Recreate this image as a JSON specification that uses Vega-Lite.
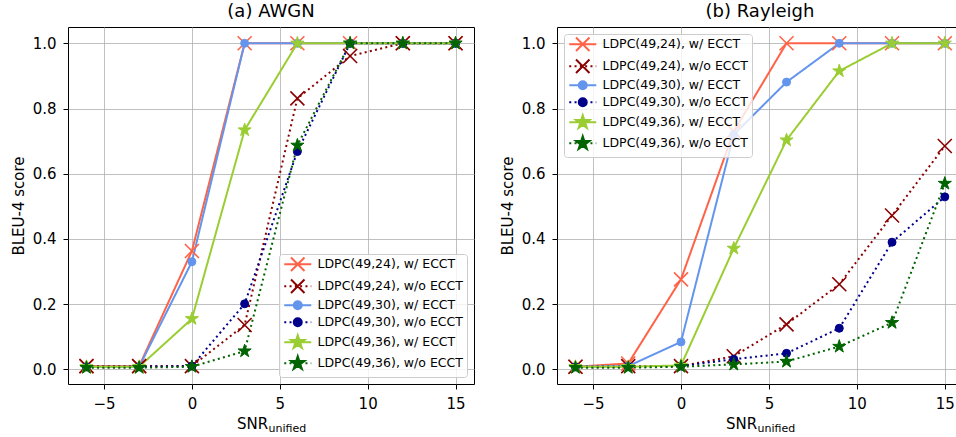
{
  "$schema": "https://vega.github.io/schema/vega-lite/v6.json",
  "padding": {"left": 10, "top": 2, "right": 0, "bottom": 0},
  "spacing": 24,
  "background": "white",
  "datasets": {
    "awgn": [
      {"snr": -6, "series": "LDPC(49,24), w/ ECCT", "ecct": "w/", "bleu": 0.01},
      {"snr": -3, "series": "LDPC(49,24), w/ ECCT", "ecct": "w/", "bleu": 0.01},
      {"snr": 0, "series": "LDPC(49,24), w/ ECCT", "ecct": "w/", "bleu": 0.363},
      {"snr": 3, "series": "LDPC(49,24), w/ ECCT", "ecct": "w/", "bleu": 1.0},
      {"snr": 6, "series": "LDPC(49,24), w/ ECCT", "ecct": "w/", "bleu": 1.0},
      {"snr": 9, "series": "LDPC(49,24), w/ ECCT", "ecct": "w/", "bleu": 1.0},
      {"snr": 12, "series": "LDPC(49,24), w/ ECCT", "ecct": "w/", "bleu": 1.0},
      {"snr": 15, "series": "LDPC(49,24), w/ ECCT", "ecct": "w/", "bleu": 1.0},
      {"snr": -6, "series": "LDPC(49,24), w/o ECCT", "ecct": "w/o", "bleu": 0.01},
      {"snr": -3, "series": "LDPC(49,24), w/o ECCT", "ecct": "w/o", "bleu": 0.01},
      {"snr": 0, "series": "LDPC(49,24), w/o ECCT", "ecct": "w/o", "bleu": 0.01},
      {"snr": 3, "series": "LDPC(49,24), w/o ECCT", "ecct": "w/o", "bleu": 0.136},
      {"snr": 6, "series": "LDPC(49,24), w/o ECCT", "ecct": "w/o", "bleu": 0.831},
      {"snr": 9, "series": "LDPC(49,24), w/o ECCT", "ecct": "w/o", "bleu": 0.961},
      {"snr": 12, "series": "LDPC(49,24), w/o ECCT", "ecct": "w/o", "bleu": 1.0},
      {"snr": 15, "series": "LDPC(49,24), w/o ECCT", "ecct": "w/o", "bleu": 1.0},
      {"snr": -6, "series": "LDPC(49,30), w/ ECCT", "ecct": "w/", "bleu": 0.008},
      {"snr": -3, "series": "LDPC(49,30), w/ ECCT", "ecct": "w/", "bleu": 0.008},
      {"snr": 0, "series": "LDPC(49,30), w/ ECCT", "ecct": "w/", "bleu": 0.33},
      {"snr": 3, "series": "LDPC(49,30), w/ ECCT", "ecct": "w/", "bleu": 1.0},
      {"snr": 6, "series": "LDPC(49,30), w/ ECCT", "ecct": "w/", "bleu": 1.0},
      {"snr": 9, "series": "LDPC(49,30), w/ ECCT", "ecct": "w/", "bleu": 1.0},
      {"snr": 12, "series": "LDPC(49,30), w/ ECCT", "ecct": "w/", "bleu": 1.0},
      {"snr": 15, "series": "LDPC(49,30), w/ ECCT", "ecct": "w/", "bleu": 1.0},
      {"snr": -6, "series": "LDPC(49,30), w/o ECCT", "ecct": "w/o", "bleu": 0.008},
      {"snr": -3, "series": "LDPC(49,30), w/o ECCT", "ecct": "w/o", "bleu": 0.008},
      {"snr": 0, "series": "LDPC(49,30), w/o ECCT", "ecct": "w/o", "bleu": 0.01},
      {"snr": 3, "series": "LDPC(49,30), w/o ECCT", "ecct": "w/o", "bleu": 0.201},
      {"snr": 6, "series": "LDPC(49,30), w/o ECCT", "ecct": "w/o", "bleu": 0.668},
      {"snr": 9, "series": "LDPC(49,30), w/o ECCT", "ecct": "w/o", "bleu": 1.0},
      {"snr": 12, "series": "LDPC(49,30), w/o ECCT", "ecct": "w/o", "bleu": 1.0},
      {"snr": 15, "series": "LDPC(49,30), w/o ECCT", "ecct": "w/o", "bleu": 1.0},
      {"snr": -6, "series": "LDPC(49,36), w/ ECCT", "ecct": "w/", "bleu": 0.008},
      {"snr": -3, "series": "LDPC(49,36), w/ ECCT", "ecct": "w/", "bleu": 0.008},
      {"snr": 0, "series": "LDPC(49,36), w/ ECCT", "ecct": "w/", "bleu": 0.155},
      {"snr": 3, "series": "LDPC(49,36), w/ ECCT", "ecct": "w/", "bleu": 0.734},
      {"snr": 6, "series": "LDPC(49,36), w/ ECCT", "ecct": "w/", "bleu": 1.0},
      {"snr": 9, "series": "LDPC(49,36), w/ ECCT", "ecct": "w/", "bleu": 1.0},
      {"snr": 12, "series": "LDPC(49,36), w/ ECCT", "ecct": "w/", "bleu": 1.0},
      {"snr": 15, "series": "LDPC(49,36), w/ ECCT", "ecct": "w/", "bleu": 1.0},
      {"snr": -6, "series": "LDPC(49,36), w/o ECCT", "ecct": "w/o", "bleu": 0.005},
      {"snr": -3, "series": "LDPC(49,36), w/o ECCT", "ecct": "w/o", "bleu": 0.005},
      {"snr": 0, "series": "LDPC(49,36), w/o ECCT", "ecct": "w/o", "bleu": 0.008},
      {"snr": 3, "series": "LDPC(49,36), w/o ECCT", "ecct": "w/o", "bleu": 0.056},
      {"snr": 6, "series": "LDPC(49,36), w/o ECCT", "ecct": "w/o", "bleu": 0.687},
      {"snr": 9, "series": "LDPC(49,36), w/o ECCT", "ecct": "w/o", "bleu": 1.0},
      {"snr": 12, "series": "LDPC(49,36), w/o ECCT", "ecct": "w/o", "bleu": 1.0},
      {"snr": 15, "series": "LDPC(49,36), w/o ECCT", "ecct": "w/o", "bleu": 1.0}
    ],
    "rayleigh": [
      {"snr": -6, "series": "LDPC(49,24), w/ ECCT", "ecct": "w/", "bleu": 0.008},
      {"snr": -3, "series": "LDPC(49,24), w/ ECCT", "ecct": "w/", "bleu": 0.018},
      {"snr": 0, "series": "LDPC(49,24), w/ ECCT", "ecct": "w/", "bleu": 0.276},
      {"snr": 3, "series": "LDPC(49,24), w/ ECCT", "ecct": "w/", "bleu": 0.73},
      {"snr": 6, "series": "LDPC(49,24), w/ ECCT", "ecct": "w/", "bleu": 1.0},
      {"snr": 9, "series": "LDPC(49,24), w/ ECCT", "ecct": "w/", "bleu": 1.0},
      {"snr": 12, "series": "LDPC(49,24), w/ ECCT", "ecct": "w/", "bleu": 1.0},
      {"snr": 15, "series": "LDPC(49,24), w/ ECCT", "ecct": "w/", "bleu": 1.0},
      {"snr": -6, "series": "LDPC(49,24), w/o ECCT", "ecct": "w/o", "bleu": 0.008},
      {"snr": -3, "series": "LDPC(49,24), w/o ECCT", "ecct": "w/o", "bleu": 0.01},
      {"snr": 0, "series": "LDPC(49,24), w/o ECCT", "ecct": "w/o", "bleu": 0.01},
      {"snr": 3, "series": "LDPC(49,24), w/o ECCT", "ecct": "w/o", "bleu": 0.04},
      {"snr": 6, "series": "LDPC(49,24), w/o ECCT", "ecct": "w/o", "bleu": 0.138},
      {"snr": 9, "series": "LDPC(49,24), w/o ECCT", "ecct": "w/o", "bleu": 0.261},
      {"snr": 12, "series": "LDPC(49,24), w/o ECCT", "ecct": "w/o", "bleu": 0.472},
      {"snr": 15, "series": "LDPC(49,24), w/o ECCT", "ecct": "w/o", "bleu": 0.685},
      {"snr": -6, "series": "LDPC(49,30), w/ ECCT", "ecct": "w/", "bleu": 0.008},
      {"snr": -3, "series": "LDPC(49,30), w/ ECCT", "ecct": "w/", "bleu": 0.01},
      {"snr": 0, "series": "LDPC(49,30), w/ ECCT", "ecct": "w/", "bleu": 0.084},
      {"snr": 3, "series": "LDPC(49,30), w/ ECCT", "ecct": "w/", "bleu": 0.72},
      {"snr": 6, "series": "LDPC(49,30), w/ ECCT", "ecct": "w/", "bleu": 0.881},
      {"snr": 9, "series": "LDPC(49,30), w/ ECCT", "ecct": "w/", "bleu": 1.0},
      {"snr": 12, "series": "LDPC(49,30), w/ ECCT", "ecct": "w/", "bleu": 1.0},
      {"snr": 15, "series": "LDPC(49,30), w/ ECCT", "ecct": "w/", "bleu": 1.0},
      {"snr": -6, "series": "LDPC(49,30), w/o ECCT", "ecct": "w/o", "bleu": 0.008},
      {"snr": -3, "series": "LDPC(49,30), w/o ECCT", "ecct": "w/o", "bleu": 0.008},
      {"snr": 0, "series": "LDPC(49,30), w/o ECCT", "ecct": "w/o", "bleu": 0.01},
      {"snr": 3, "series": "LDPC(49,30), w/o ECCT", "ecct": "w/o", "bleu": 0.031},
      {"snr": 6, "series": "LDPC(49,30), w/o ECCT", "ecct": "w/o", "bleu": 0.049},
      {"snr": 9, "series": "LDPC(49,30), w/o ECCT", "ecct": "w/o", "bleu": 0.126},
      {"snr": 12, "series": "LDPC(49,30), w/o ECCT", "ecct": "w/o", "bleu": 0.39},
      {"snr": 15, "series": "LDPC(49,30), w/o ECCT", "ecct": "w/o", "bleu": 0.529},
      {"snr": -6, "series": "LDPC(49,36), w/ ECCT", "ecct": "w/", "bleu": 0.008},
      {"snr": -3, "series": "LDPC(49,36), w/ ECCT", "ecct": "w/", "bleu": 0.008},
      {"snr": 0, "series": "LDPC(49,36), w/ ECCT", "ecct": "w/", "bleu": 0.012},
      {"snr": 3, "series": "LDPC(49,36), w/ ECCT", "ecct": "w/", "bleu": 0.371},
      {"snr": 6, "series": "LDPC(49,36), w/ ECCT", "ecct": "w/", "bleu": 0.703},
      {"snr": 9, "series": "LDPC(49,36), w/ ECCT", "ecct": "w/", "bleu": 0.915},
      {"snr": 12, "series": "LDPC(49,36), w/ ECCT", "ecct": "w/", "bleu": 1.0},
      {"snr": 15, "series": "LDPC(49,36), w/ ECCT", "ecct": "w/", "bleu": 1.0},
      {"snr": -6, "series": "LDPC(49,36), w/o ECCT", "ecct": "w/o", "bleu": 0.005},
      {"snr": -3, "series": "LDPC(49,36), w/o ECCT", "ecct": "w/o", "bleu": 0.005},
      {"snr": 0, "series": "LDPC(49,36), w/o ECCT", "ecct": "w/o", "bleu": 0.008},
      {"snr": 3, "series": "LDPC(49,36), w/o ECCT", "ecct": "w/o", "bleu": 0.015},
      {"snr": 6, "series": "LDPC(49,36), w/o ECCT", "ecct": "w/o", "bleu": 0.024},
      {"snr": 9, "series": "LDPC(49,36), w/o ECCT", "ecct": "w/o", "bleu": 0.07},
      {"snr": 12, "series": "LDPC(49,36), w/o ECCT", "ecct": "w/o", "bleu": 0.143},
      {"snr": 15, "series": "LDPC(49,36), w/o ECCT", "ecct": "w/o", "bleu": 0.57}
    ]
  },
  "hconcat": [
    {
      "width": 406,
      "height": 357,
      "title": {"text": "(a) AWGN", "fontSize": 18, "fontWeight": "normal", "offset": 6, "color": "black", "font": "DejaVu Sans"},
      "data": {"name": "awgn"},
      "encoding": {
        "x": {"field": "snr", "type": "quantitative", "scale": {"domain": [-7.05, 16.05], "nice": false, "zero": false}},
        "y": {"field": "bleu", "type": "quantitative", "scale": {"domain": [-0.045, 1.05], "nice": false, "zero": false},
              "axis": {"title": "BLEU-4 score", "values": [0, 0.2, 0.4, 0.6, 0.8, 1.0], "format": ".1f", "labelPadding": 7, "titlePadding": 6}}
      },
      "layer": [
        {
          "mark": {"type": "line", "strokeWidth": 2},
          "encoding": {
            "x": {"field": "snr", "type": "quantitative",
                  "axis": {"values": [-5, 0, 5, 10, 15], "title": "SNR", "titleX": 184, "titleY": 44, "titleBaseline": "alphabetic", "titleAlign": "center", "labelPadding": 7}},
            "color": {"field": "series", "type": "nominal",
              "scale": {"domain": ["LDPC(49,24), w/ ECCT", "LDPC(49,24), w/o ECCT", "LDPC(49,30), w/ ECCT", "LDPC(49,30), w/o ECCT", "LDPC(49,36), w/ ECCT", "LDPC(49,36), w/o ECCT"],
                        "range": ["#FF6347", "#8B0000", "#6495ED", "#00008B", "#9ACD32", "#006400"]},
              "legend": {"title": null, "orient": "bottom-right",
                "encode": {"symbols": {"update": {
                  "shape": {"signal": "['M-1,0L4.4,0M0.35,-1.35L3.05,1.35M0.35,1.35L3.05,-1.35','M-1,0L-0.6,0M0.06,0L0.46,0M1.12,0L1.52,0M2.18,0L2.58,0M3.24,0L3.64,0M4.3,0L4.4,0M0.35,-1.35L3.05,1.35M0.35,1.35L3.05,-1.35','M-1,0L4.4,0M2.5,0A0.8,0.8 0 1,1 0.9,0A0.8,0.8 0 1,1 2.5,0Z','M-1,0L-0.6,0M0.06,0L0.46,0M1.12,0L1.52,0M2.18,0L2.58,0M3.24,0L3.64,0M4.3,0L4.4,0M2.5,0A0.8,0.8 0 1,1 0.9,0A0.8,0.8 0 1,1 2.5,0Z','M-1,0L4.4,0M1.7,-1.4L2.0143,-0.4326L3.0314,-0.4326L2.2082,0.1652L2.5232,1.1326L1.7,0.5348L0.8768,1.1326L1.1918,0.1652L0.3686,-0.4326L1.3857,-0.4326Z','M-1,0L-0.6,0M0.06,0L0.46,0M1.12,0L1.52,0M2.18,0L2.58,0M3.24,0L3.64,0M4.3,0L4.4,0M1.7,-1.4L2.0143,-0.4326L3.0314,-0.4326L2.2082,0.1652L2.5232,1.1326L1.7,0.5348L0.8768,1.1326L1.1918,0.1652L0.3686,-0.4326L1.3857,-0.4326Z'][indexof(['LDPC(49,24), w/ ECCT','LDPC(49,24), w/o ECCT','LDPC(49,30), w/ ECCT','LDPC(49,30), w/o ECCT','LDPC(49,36), w/ ECCT','LDPC(49,36), w/o ECCT'], datum.value)]"},
                  "fill": {"signal": "['#FF6347','#8B0000','#6495ED','#00008B','#9ACD32','#006400'][indexof(['LDPC(49,24), w/ ECCT','LDPC(49,24), w/o ECCT','LDPC(49,30), w/ ECCT','LDPC(49,30), w/o ECCT','LDPC(49,36), w/ ECCT','LDPC(49,36), w/o ECCT'], datum.value)]"},
                  "stroke": {"signal": "['#FF6347','#8B0000','#6495ED','#00008B','#9ACD32','#006400'][indexof(['LDPC(49,24), w/ ECCT','LDPC(49,24), w/o ECCT','LDPC(49,30), w/ ECCT','LDPC(49,30), w/o ECCT','LDPC(49,36), w/ ECCT','LDPC(49,36), w/o ECCT'], datum.value)]"},
                  "strokeWidth": {"value": 2},
                  "opacity": {"value": 1}
                }}}
              }
            },
            "strokeDash": {"field": "ecct", "type": "nominal", "legend": null,
              "scale": {"domain": ["w/", "w/o"], "range": [[1, 0], [2, 3.3]]}}
          }
        },
        {
          "transform": [{"filter": {"field": "series", "oneOf": ["LDPC(49,24), w/ ECCT", "LDPC(49,24), w/o ECCT"]}}],
          "mark": {"type": "point", "filled": true, "size": 196, "strokeWidth": 1.6, "opacity": 1, "shape": "M-1,-1L1,1M-1,1L1,-1"},
          "encoding": {
            "x": {"field": "snr", "type": "quantitative",
                  "axis": {"orient": "bottom", "title": "unified", "labels": false, "ticks": false, "domain": false, "grid": false, "titleFontSize": 11, "titleX": 200, "titleY": 47, "titleAlign": "left", "titleBaseline": "alphabetic"}},
            "fill": {"field": "series", "type": "nominal", "legend": null,
              "scale": {"domain": ["LDPC(49,24), w/ ECCT", "LDPC(49,24), w/o ECCT", "LDPC(49,30), w/ ECCT", "LDPC(49,30), w/o ECCT", "LDPC(49,36), w/ ECCT", "LDPC(49,36), w/o ECCT"],
                        "range": ["#FF6347", "#8B0000", "#6495ED", "#00008B", "#9ACD32", "#006400"]}},
            "stroke": {"field": "series", "type": "nominal", "legend": null,
              "scale": {"domain": ["LDPC(49,24), w/ ECCT", "LDPC(49,24), w/o ECCT", "LDPC(49,30), w/ ECCT", "LDPC(49,30), w/o ECCT", "LDPC(49,36), w/ ECCT", "LDPC(49,36), w/o ECCT"],
                        "range": ["#FF6347", "#8B0000", "#6495ED", "#00008B", "#9ACD32", "#006400"]}}
          }
        },
        {
          "transform": [{"filter": {"field": "series", "oneOf": ["LDPC(49,30), w/ ECCT", "LDPC(49,30), w/o ECCT"]}}],
          "mark": {"type": "point", "filled": true, "size": 64, "strokeWidth": 1, "opacity": 1, "shape": "circle"},
          "encoding": {
            "x": {"field": "snr", "type": "quantitative", "axis": null},
            "fill": {"field": "series", "type": "nominal", "legend": null},
            "stroke": {"field": "series", "type": "nominal", "legend": null}
          }
        },
        {
          "transform": [{"filter": {"field": "series", "oneOf": ["LDPC(49,36), w/ ECCT", "LDPC(49,36), w/o ECCT"]}}],
          "mark": {"type": "point", "filled": true, "size": 190, "strokeWidth": 1, "opacity": 1, "shape": "M0,-1L0.2245,-0.309L0.951,-0.309L0.363,0.118L0.588,0.809L0,0.382L-0.588,0.809L-0.363,0.118L-0.951,-0.309L-0.2245,-0.309Z"},
          "encoding": {
            "x": {"field": "snr", "type": "quantitative", "axis": null},
            "fill": {"field": "series", "type": "nominal", "legend": null},
            "stroke": {"field": "series", "type": "nominal", "legend": null}
          }
        }
      ],
      "resolve": {"axis": {"x": "independent"}}
    },
    {
      "width": 401,
      "height": 357,
      "title": {"text": "(b) Rayleigh", "fontSize": 18, "fontWeight": "normal", "offset": 6, "color": "black", "font": "DejaVu Sans", "dx": 2.5},
      "data": {"name": "rayleigh"},
      "encoding": {
        "x": {"field": "snr", "type": "quantitative", "scale": {"domain": [-7.05, 15.75], "nice": false, "zero": false}},
        "y": {"field": "bleu", "type": "quantitative", "scale": {"domain": [-0.045, 1.05], "nice": false, "zero": false},
              "axis": {"title": "BLEU-4 score", "values": [0, 0.2, 0.4, 0.6, 0.8, 1.0], "format": ".1f", "labelPadding": 7, "titlePadding": 6}}
      },
      "layer": [
        {
          "mark": {"type": "line", "strokeWidth": 2},
          "encoding": {
            "x": {"field": "snr", "type": "quantitative",
                  "axis": {"values": [-5, 0, 5, 10, 15], "title": "SNR", "titleX": 184, "titleY": 44, "titleBaseline": "alphabetic", "titleAlign": "center", "labelPadding": 7}},
            "color": {"field": "series", "type": "nominal",
              "scale": {"domain": ["LDPC(49,24), w/ ECCT", "LDPC(49,24), w/o ECCT", "LDPC(49,30), w/ ECCT", "LDPC(49,30), w/o ECCT", "LDPC(49,36), w/ ECCT", "LDPC(49,36), w/o ECCT"],
                        "range": ["#FF6347", "#8B0000", "#6495ED", "#00008B", "#9ACD32", "#006400"]},
              "legend": {"title": null, "orient": "top-left",
                "encode": {"symbols": {"update": {
                  "shape": {"signal": "['M-1,0L4.4,0M0.35,-1.35L3.05,1.35M0.35,1.35L3.05,-1.35','M-1,0L-0.6,0M0.06,0L0.46,0M1.12,0L1.52,0M2.18,0L2.58,0M3.24,0L3.64,0M4.3,0L4.4,0M0.35,-1.35L3.05,1.35M0.35,1.35L3.05,-1.35','M-1,0L4.4,0M2.5,0A0.8,0.8 0 1,1 0.9,0A0.8,0.8 0 1,1 2.5,0Z','M-1,0L-0.6,0M0.06,0L0.46,0M1.12,0L1.52,0M2.18,0L2.58,0M3.24,0L3.64,0M4.3,0L4.4,0M2.5,0A0.8,0.8 0 1,1 0.9,0A0.8,0.8 0 1,1 2.5,0Z','M-1,0L4.4,0M1.7,-1.4L2.0143,-0.4326L3.0314,-0.4326L2.2082,0.1652L2.5232,1.1326L1.7,0.5348L0.8768,1.1326L1.1918,0.1652L0.3686,-0.4326L1.3857,-0.4326Z','M-1,0L-0.6,0M0.06,0L0.46,0M1.12,0L1.52,0M2.18,0L2.58,0M3.24,0L3.64,0M4.3,0L4.4,0M1.7,-1.4L2.0143,-0.4326L3.0314,-0.4326L2.2082,0.1652L2.5232,1.1326L1.7,0.5348L0.8768,1.1326L1.1918,0.1652L0.3686,-0.4326L1.3857,-0.4326Z'][indexof(['LDPC(49,24), w/ ECCT','LDPC(49,24), w/o ECCT','LDPC(49,30), w/ ECCT','LDPC(49,30), w/o ECCT','LDPC(49,36), w/ ECCT','LDPC(49,36), w/o ECCT'], datum.value)]"},
                  "fill": {"signal": "['#FF6347','#8B0000','#6495ED','#00008B','#9ACD32','#006400'][indexof(['LDPC(49,24), w/ ECCT','LDPC(49,24), w/o ECCT','LDPC(49,30), w/ ECCT','LDPC(49,30), w/o ECCT','LDPC(49,36), w/ ECCT','LDPC(49,36), w/o ECCT'], datum.value)]"},
                  "stroke": {"signal": "['#FF6347','#8B0000','#6495ED','#00008B','#9ACD32','#006400'][indexof(['LDPC(49,24), w/ ECCT','LDPC(49,24), w/o ECCT','LDPC(49,30), w/ ECCT','LDPC(49,30), w/o ECCT','LDPC(49,36), w/ ECCT','LDPC(49,36), w/o ECCT'], datum.value)]"},
                  "strokeWidth": {"value": 2},
                  "opacity": {"value": 1}
                }}}
              }
            },
            "strokeDash": {"field": "ecct", "type": "nominal", "legend": null,
              "scale": {"domain": ["w/", "w/o"], "range": [[1, 0], [2, 3.3]]}}
          }
        },
        {
          "transform": [{"filter": {"field": "series", "oneOf": ["LDPC(49,24), w/ ECCT", "LDPC(49,24), w/o ECCT"]}}],
          "mark": {"type": "point", "filled": true, "size": 196, "strokeWidth": 1.6, "opacity": 1, "shape": "M-1,-1L1,1M-1,1L1,-1"},
          "encoding": {
            "x": {"field": "snr", "type": "quantitative",
                  "axis": {"orient": "bottom", "title": "unified", "labels": false, "ticks": false, "domain": false, "grid": false, "titleFontSize": 11, "titleX": 200, "titleY": 47, "titleAlign": "left", "titleBaseline": "alphabetic"}},
            "fill": {"field": "series", "type": "nominal", "legend": null,
              "scale": {"domain": ["LDPC(49,24), w/ ECCT", "LDPC(49,24), w/o ECCT", "LDPC(49,30), w/ ECCT", "LDPC(49,30), w/o ECCT", "LDPC(49,36), w/ ECCT", "LDPC(49,36), w/o ECCT"],
                        "range": ["#FF6347", "#8B0000", "#6495ED", "#00008B", "#9ACD32", "#006400"]}},
            "stroke": {"field": "series", "type": "nominal", "legend": null,
              "scale": {"domain": ["LDPC(49,24), w/ ECCT", "LDPC(49,24), w/o ECCT", "LDPC(49,30), w/ ECCT", "LDPC(49,30), w/o ECCT", "LDPC(49,36), w/ ECCT", "LDPC(49,36), w/o ECCT"],
                        "range": ["#FF6347", "#8B0000", "#6495ED", "#00008B", "#9ACD32", "#006400"]}}
          }
        },
        {
          "transform": [{"filter": {"field": "series", "oneOf": ["LDPC(49,30), w/ ECCT", "LDPC(49,30), w/o ECCT"]}}],
          "mark": {"type": "point", "filled": true, "size": 64, "strokeWidth": 1, "opacity": 1, "shape": "circle"},
          "encoding": {
            "x": {"field": "snr", "type": "quantitative", "axis": null},
            "fill": {"field": "series", "type": "nominal", "legend": null},
            "stroke": {"field": "series", "type": "nominal", "legend": null}
          }
        },
        {
          "transform": [{"filter": {"field": "series", "oneOf": ["LDPC(49,36), w/ ECCT", "LDPC(49,36), w/o ECCT"]}}],
          "mark": {"type": "point", "filled": true, "size": 190, "strokeWidth": 1, "opacity": 1, "shape": "M0,-1L0.2245,-0.309L0.951,-0.309L0.363,0.118L0.588,0.809L0,0.382L-0.588,0.809L-0.363,0.118L-0.951,-0.309L-0.2245,-0.309Z"},
          "encoding": {
            "x": {"field": "snr", "type": "quantitative", "axis": null},
            "fill": {"field": "series", "type": "nominal", "legend": null},
            "stroke": {"field": "series", "type": "nominal", "legend": null}
          }
        }
      ],
      "resolve": {"axis": {"x": "independent"}}
    }
  ],
  "resolve": {
    "scale": {"color": "independent", "fill": "independent", "stroke": "independent", "strokeDash": "independent"},
    "legend": {"color": "independent"}
  },
  "config": {
    "font": "DejaVu Sans",
    "view": {"stroke": "black", "strokeWidth": 1},
    "axis": {
      "domain": false,
      "labelColor": "black", "titleColor": "black", "tickColor": "black",
      "labelFont": "DejaVu Sans", "titleFont": "DejaVu Sans",
      "labelFontSize": 15, "titleFontSize": 15, "titleFontWeight": "normal",
      "gridColor": "#b0b0b0", "gridWidth": 0.8, "gridOpacity": 1,
      "tickSize": 5, "tickWidth": 1
    },
    "legend": {
      "labelFont": "DejaVu Sans", "labelFontSize": 12.5, "labelColor": "black",
      "padding": 4, "fillColor": "rgba(255,255,255,0.8)", "strokeColor": "#cccccc", "cornerRadius": 3,
      "offset": 7, "symbolSize": 100, "rowPadding": 0, "labelOffset": 22, "symbolLimit": 0
    }
  }
}
